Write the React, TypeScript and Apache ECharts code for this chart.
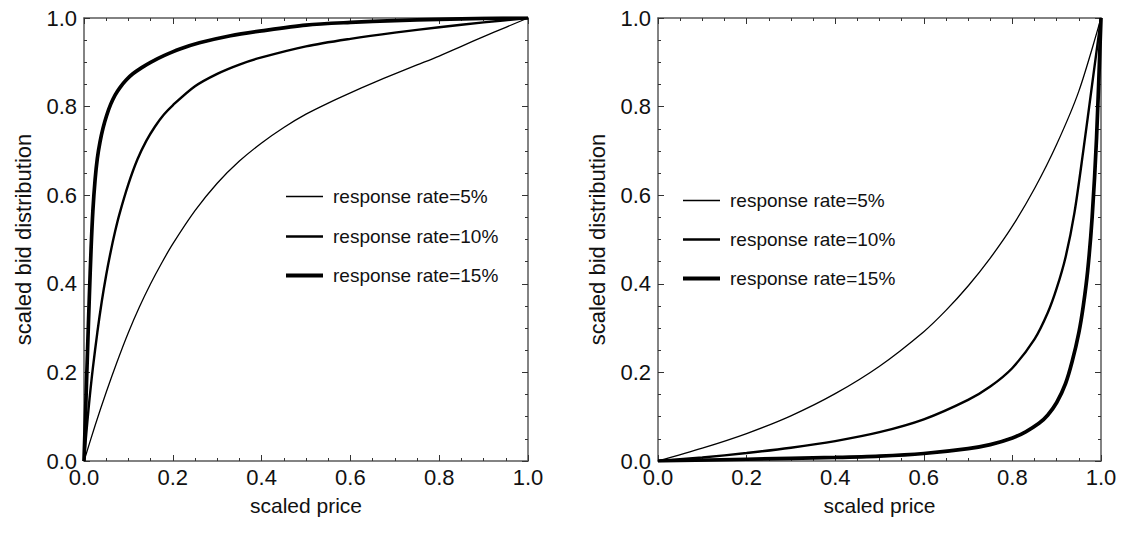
import React, { useEffect, useRef } from "react";
import * as echarts from "echarts";

const seriesNames = ["response rate=5%", "response rate=10%", "response rate=15%"];
const lineWidths = [1.3, 2.4, 3.7];

const leftRate5: number[][] = [
  [0, 0], [0.025, 0.08], [0.05, 0.155], [0.075, 0.225], [0.1, 0.29], [0.125, 0.348], [0.15, 0.4],
  [0.175, 0.447], [0.2, 0.49], [0.25, 0.565], [0.3, 0.627], [0.35, 0.677], [0.4, 0.718], [0.45, 0.753],
  [0.5, 0.783], [0.55, 0.808], [0.6, 0.831], [0.65, 0.853], [0.7, 0.874], [0.75, 0.894], [0.8, 0.914],
  [0.85, 0.936], [0.9, 0.958], [0.95, 0.979], [1, 1],
];
const leftRate10: number[][] = [
  [0, 0], [0.005, 0.06], [0.01, 0.115], [0.015, 0.165], [0.02, 0.21], [0.03, 0.29], [0.04, 0.36],
  [0.05, 0.42], [0.06, 0.472], [0.07, 0.518], [0.08, 0.558], [0.1, 0.625], [0.12, 0.68], [0.14, 0.722],
  [0.16, 0.755], [0.18, 0.782], [0.2, 0.803], [0.25, 0.846], [0.3, 0.874], [0.35, 0.895], [0.4, 0.911],
  [0.5, 0.936], [0.6, 0.953], [0.7, 0.967], [0.8, 0.979], [0.9, 0.99], [1, 1],
];
const leftRate15: number[][] = [
  [0, 0], [0.004, 0.125], [0.008, 0.25], [0.012, 0.37], [0.016, 0.48], [0.02, 0.565], [0.025, 0.635],
  [0.03, 0.683], [0.036, 0.72], [0.043, 0.752], [0.051, 0.78], [0.06, 0.805], [0.07, 0.826],
  [0.081, 0.843], [0.095, 0.86], [0.11, 0.874], [0.13, 0.888], [0.15, 0.9], [0.18, 0.915],
  [0.216, 0.93], [0.26, 0.944], [0.33, 0.96], [0.4, 0.971], [0.5, 0.984], [0.6, 0.99], [0.7, 0.994],
  [0.8, 0.997], [0.9, 0.999], [1, 1],
];
const rightRate5: number[][] = [
  [0, 0], [0.1, 0.029], [0.2, 0.062], [0.3, 0.102], [0.4, 0.152], [0.5, 0.214], [0.6, 0.292],
  [0.65, 0.34], [0.7, 0.395], [0.75, 0.458], [0.8, 0.53], [0.85, 0.615], [0.9, 0.715], [0.95, 0.835], [1, 1],
];
const rightRate10: number[][] = [
  [0, 0], [0.1, 0.008], [0.2, 0.018], [0.3, 0.03], [0.4, 0.045], [0.5, 0.065], [0.6, 0.094],
  [0.7, 0.138], [0.75, 0.168], [0.8, 0.21], [0.85, 0.275], [0.88, 0.335], [0.9, 0.39], [0.92, 0.46],
  [0.94, 0.56], [0.96, 0.7], [0.98, 0.85], [1, 1],
];
const rightRate15: number[][] = [
  [0, 0], [0.2, 0.004], [0.4, 0.008], [0.5, 0.011], [0.6, 0.017], [0.7, 0.028], [0.75, 0.037],
  [0.8, 0.052], [0.83, 0.066], [0.86, 0.085], [0.88, 0.104], [0.9, 0.132], [0.92, 0.175],
  [0.935, 0.225], [0.95, 0.29], [0.96, 0.35], [0.97, 0.43], [0.98, 0.55], [0.99, 0.73], [1, 1],
];

const xAxisTitle = "scaled price";
const yAxisTitle = "scaled bid distribution";

const FONT = "'Liberation Sans', Arial, Helvetica, sans-serif";
const AXIS_COLOR = "#5a5a5a";

function makeAxes(gridIndex: number, kind: "x" | "y") {
  const common = {
    gridIndex,
    type: "value",
    min: 0,
    max: 1,
    interval: 0.2,
    axisLine: { show: true, onZero: false, lineStyle: { color: AXIS_COLOR, width: 1.5 } },
    axisTick: { show: true, inside: true, length: 6, lineStyle: { color: "#333", width: 1 } },
    minorTick: { show: true, splitNumber: 4, length: 3, lineStyle: { color: "#333", width: 1 } },
    splitLine: { show: false },
    minorSplitLine: { show: false },
  };
  const main = {
    ...common,
    position: kind === "x" ? "bottom" : "left",
    name: kind === "x" ? xAxisTitle : yAxisTitle,
    nameLocation: "middle",
    nameGap: kind === "x" ? 34 : 50,
    nameTextStyle: { fontFamily: FONT, fontSize: kind === "x" ? 21 : 22, color: "#111" },
    axisLabel: {
      show: true,
      fontFamily: FONT,
      fontSize: 22,
      color: "#111",
      margin: kind === "x" ? 5 : 7,
      formatter: (v: number) => v.toFixed(1),
    },
  };
  const mirror = {
    ...common,
    position: kind === "x" ? "top" : "right",
    axisLabel: { show: false },
  };
  return [main, mirror];
}

function makeLegends(left: number, tops: number[]) {
  return seriesNames.map((name, i) => ({
    data: [name],
    left,
    top: tops[i],
    padding: 0,
    icon: "rect",
    itemWidth: 37,
    itemHeight: lineWidths[i] + 0.3,
    selectedMode: false,
    itemStyle: { color: "#000" },
    textStyle: { fontFamily: FONT, fontSize: 19, color: "#111", padding: [0, 0, 0, 5] },
  }));
}

export default function App() {
  const ref = useRef<HTMLDivElement>(null);
  useEffect(() => {
    document.body.style.margin = "0";
    if (!ref.current) return;
    const chart = echarts.init(ref.current, undefined, { renderer: "svg" });
    const leftData = [leftRate5, leftRate10, leftRate15];
    const rightData = [rightRate5, rightRate10, rightRate15];
    const series: any[] = [];
    [leftData, rightData].forEach((set, g) => {
      set.forEach((d, i) => {
        series.push({
          type: "line",
          name: seriesNames[i],
          xAxisIndex: g * 2,
          yAxisIndex: g * 2,
          data: d,
          showSymbol: false,
          smooth: 0.3,
          lineStyle: { color: "#000", width: lineWidths[i] },
          itemStyle: { color: "#000" },
          z: 3,
        });
      });
    });
    chart.setOption({
      animation: false,
      backgroundColor: "#fff",
      grid: [
        { left: 84, top: 18, width: 444, height: 443 },
        { left: 658, top: 18, width: 443, height: 443 },
      ],
      xAxis: [...makeAxes(0, "x"), ...makeAxes(1, "x")],
      yAxis: [...makeAxes(0, "y"), ...makeAxes(1, "y")],
      legend: [...makeLegends(286, [187, 227, 266]), ...makeLegends(683, [191, 230, 269])],
      series,
    });
    return () => chart.dispose();
  }, []);
  return <div ref={ref} style={{ width: 1127, height: 533 }} />;
}
